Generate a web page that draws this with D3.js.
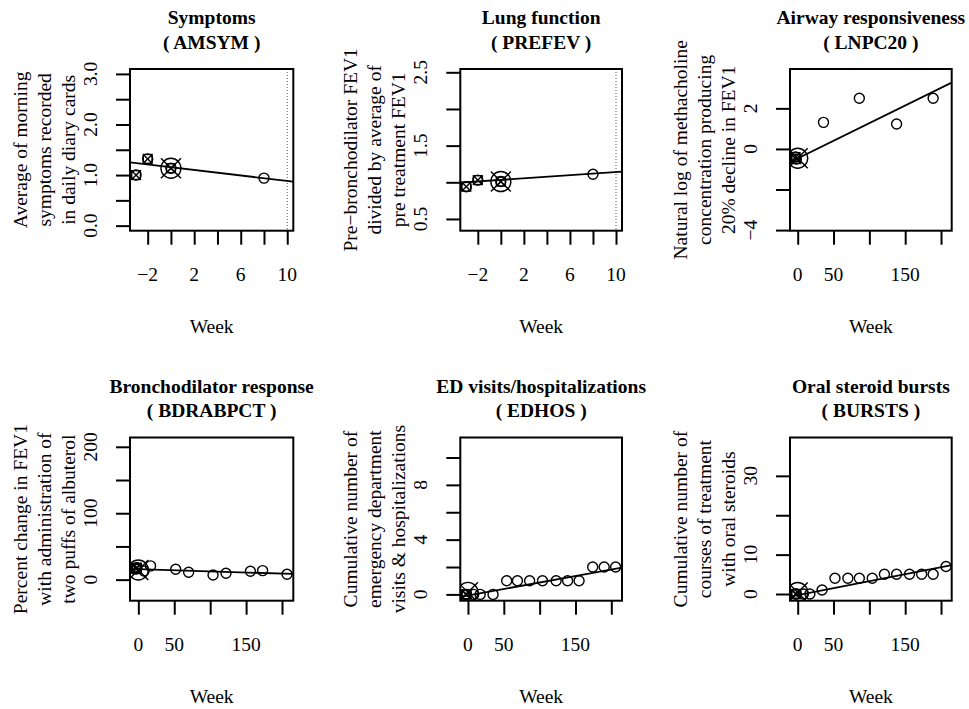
<!DOCTYPE html>
<html>
<head>
<meta charset="utf-8">
<script src="https://cdn.jsdelivr.net/npm/d3@7"></script>
<style>
  body { margin: 0; background: #fff; }
  svg text { font-family: "Liberation Serif", "Times New Roman", serif; font-size: 19.5px; fill: #000; }
</style>
</head>
<body>
<div id="chart"></div>
<script>
// Panel texts
var titles = ["Symptoms", "Lung function", "Airway responsiveness",
              "Bronchodilator response", "ED visits/hospitalizations", "Oral steroid bursts"];
var codes = ["AMSYM", "PREFEV", "LNPC20", "BDRABPCT", "EDHOS", "BURSTS"];
var yTitles = [
    ["Average of morning", "symptoms recorded", "in daily diary cards"],
    ["Pre\u2212bronchodilator FEV1", "divided by average of", "pre treatment FEV1"],
    ["Natural log of methacholine", "concentration producing", "20% decline in FEV1"],
    ["Percent change in FEV1", "with administration of", "two puffs of albuterol"],
    ["Cumulative number of", "emergency department", "visits & hospitalizations"],
    ["Cumulative number of", "courses of treatment", "with oral steroids"]
];

// Observations: week, value, visit kind (s = screening, b = baseline, f = follow-up)
var weeks = [
    [-3, -2, 0, 0, 8],
    [-3, -2, 0, 0, 8],
    [-3, -2, 0, 36, 86, 138, 189],
    [-3, -2, 0, 8, 17, 52, 70, 104, 122, 156, 173, 207],
    [-3, -2, 0, 8, 17, 35, 54, 69, 86, 104, 123, 139, 155, 174, 190, 206],
    [-3, -2, 0, 8, 17, 34, 52, 70, 86, 104, 121, 138, 156, 173, 189, 207]
];
var values = [
    [1.0, 1.32, 1.135, 1.135, 0.94],
    [0.94, 1.03, 1.01, 1.01, 1.11],
    [-0.4, -0.5, -0.46, 1.31, 2.5, 1.23, 2.5],
    [16, 18, 14.6, 13, 20.7, 15.7, 11.2, 7.1, 9.7, 12.7, 13.6, 8.2],
    [0, 0, 0.15, 0, 0, 0, 1, 1, 1, 1, 1, 1, 1, 2, 2, 2],
    [0, 0, 0.4, 0, 0, 1, 4, 4, 4, 4, 5, 5, 5, 5, 5, 7]
];
var kinds = [
    ["s", "s", "b", "s", "f"],
    ["s", "s", "b", "s", "f"],
    ["s", "s", "b", "f", "f", "f", "f"],
    ["s", "s", "b", "f", "f", "f", "f", "f", "f", "f", "f", "f"],
    ["s", "s", "b", "f", "f", "f", "f", "f", "f", "f", "f", "f", "f", "f", "f", "f"],
    ["s", "s", "b", "f", "f", "f", "f", "f", "f", "f", "f", "f", "f", "f", "f", "f"]
];

// Fitted trend lines (intercept, slope per week)
var fitIntercepts = [1.156, 1.033, -0.47, 15.7, -0.08, -0.28];
var fitSlopes = [-0.0273, 0.01068, 0.0174, -0.0332, 0.0095, 0.0355];

// Reference week (dotted line), null if none
var refWeeks = [10, 10, null, null, null, null];

// Axis domains and ticks
var xDomains = [[-3.52, 10.52], [-3.52, 10.52], [-10.75, 214.9], [-11.6, 215.7], [-10.7, 214.9], [-10.75, 214.9]];
var yDomains = [[-0.1, 3.097], [0.34, 2.545], [-4.03, 3.94], [-31.7, 214], [-0.46, 11.46], [-1.7, 39.74]];
var xTicks = [[-2, 0, 2, 4, 6, 8, 10], [-2, 0, 2, 4, 6, 8, 10],
              [0, 50, 100, 150, 200], [0, 50, 100, 150, 200], [0, 50, 100, 150, 200], [0, 50, 100, 150, 200]];
var xTickLabels = [[-2, 2, 6, 10], [-2, 2, 6, 10], [0, 50, 150], [0, 50, 150], [0, 50, 150], [0, 50, 150]];
var yTicks = [[0, 0.5, 1, 1.5, 2, 2.5, 3], [0.5, 1, 1.5, 2, 2.5], [-4, -2, 0, 2],
              [0, 50, 100, 150, 200], [0, 2, 4, 6, 8, 10], [0, 10, 20, 30]];
var yTickLabels = [[0, 1, 2, 3], [0.5, 1.5, 2.5], [-4, 0, 2], [0, 100, 200], [0, 4, 8], [0, 10, 30]];
var yTickFormats = [".1f", ".1f", "d", "d", "d", "d"];

// Layout of plot boxes
var colLeft = [130, 460.3, 790], colRight = [293.3, 622, 951.7];
var rowTop = [69, 437.5], rowBottom = [230.7, 600.7];
var tickLen = 14;

var svg = d3.select('#chart').append('svg')
    .attr('width', 969)
    .attr('height', 709);

function fmt(v, f) {
    var s = d3.format(f)(v);
    return s.replace('-', '\u2212');
}

function drawMarker(g, kind, cx, cy) {
    var m = g.append('g').attr('transform', `translate(${cx},${cy})`)
        .attr('fill', 'none').attr('stroke', '#000').attr('stroke-width', 1.4);
    if (kind === 'b') {
        var r = 10;
        m.append('circle').attr('r', r);
        m.append('line').attr('x1', -r).attr('y1', -r).attr('x2', r).attr('y2', r);
        m.append('line').attr('x1', -r).attr('y1', r).attr('x2', r).attr('y2', -r);
    } else if (kind === 's') {
        var h = 4.4;
        m.append('circle').attr('r', 5);
        m.append('rect').attr('x', -h).attr('y', -h).attr('width', 2 * h).attr('height', 2 * h);
        m.append('line').attr('x1', -h).attr('y1', -h).attr('x2', h).attr('y2', h);
        m.append('line').attr('x1', -h).attr('y1', h).attr('x2', h).attr('y2', -h);
    } else {
        m.append('circle').attr('r', 5);
    }
}

titles.forEach(function (title, i) {
    var col = i % 3, row = Math.floor(i / 3);
    var left = colLeft[col], right = colRight[col];
    var top = rowTop[row], bottom = rowBottom[row];
    var cx = (left + right) / 2, cy = (top + bottom) / 2;

    var x = d3.scaleLinear().domain(xDomains[i]).range([left, right]);
    var y = d3.scaleLinear().domain(yDomains[i]).range([bottom, top]);

    var g = svg.append('g').attr('class', 'panel');

    // clip region = plot box
    g.append('clipPath').attr('id', 'clip' + i)
        .append('rect').attr('x', left).attr('y', top)
        .attr('width', right - left).attr('height', bottom - top);
    var inner = g.append('g').attr('clip-path', `url(#clip${i})`);

    // reference dotted line
    if (refWeeks[i] !== null) {
        inner.append('line')
            .attr('x1', x(refWeeks[i])).attr('x2', x(refWeeks[i]))
            .attr('y1', top).attr('y2', bottom)
            .attr('stroke', '#555').attr('stroke-width', 1)
            .attr('stroke-dasharray', '1,2');
    }

    // fitted line across the box
    var xd = xDomains[i];
    inner.append('line')
        .attr('x1', x(xd[0])).attr('y1', y(fitIntercepts[i] + fitSlopes[i] * xd[0]))
        .attr('x2', x(xd[1])).attr('y2', y(fitIntercepts[i] + fitSlopes[i] * xd[1]))
        .attr('stroke', '#000').attr('stroke-width', 1.8);

    // points
    weeks[i].forEach(function (w, j) {
        drawMarker(inner, kinds[i][j], x(w), y(values[i][j]));
    });

    // axes (ticks only; labels placed separately)
    var gx = g.append('g').attr('transform', `translate(0,${bottom})`)
        .call(d3.axisBottom(x).tickValues(xTicks[i]).tickSize(tickLen).tickFormat(''));
    var gy = g.append('g').attr('transform', `translate(${left},0)`)
        .call(d3.axisLeft(y).tickValues(yTicks[i]).tickSize(tickLen).tickFormat(''));
    [gx, gy].forEach(function (a) {
        a.select('.domain').remove();
        a.selectAll('line').attr('stroke', '#000').attr('stroke-width', 2);
    });

    g.selectAll('.xlab').data(xTickLabels[i]).enter().append('text')
        .attr('x', (d) => x(d)).attr('y', bottom + 50)
        .attr('text-anchor', 'middle')
        .text((d) => fmt(d, 'd'));

    g.selectAll('.ylab').data(yTickLabels[i]).enter().append('text')
        .attr('transform', (d) => `translate(${left - 33},${y(d)}) rotate(-90)`)
        .attr('text-anchor', 'middle')
        .text((d) => fmt(d, yTickFormats[i]));

    // box
    g.append('rect').attr('x', left).attr('y', top)
        .attr('width', right - left).attr('height', bottom - top)
        .attr('fill', 'none').attr('stroke', '#000').attr('stroke-width', 2);

    // titles
    g.append('text').attr('x', cx).attr('y', top - 45)
        .attr('text-anchor', 'middle').attr('font-weight', 'bold').text(title);
    g.append('text').attr('x', cx).attr('y', top - 20.5)
        .attr('text-anchor', 'middle').attr('font-weight', 'bold').text('( ' + codes[i] + ' )');

    // x title
    g.append('text').attr('x', cx).attr('y', bottom + 102)
        .attr('text-anchor', 'middle').text('Week');

    // y title, three lines
    var offsets = [-103, -79, -55];
    yTitles[i].forEach(function (line, k) {
        g.append('text')
            .attr('transform', `translate(${left + offsets[k]},${cy}) rotate(-90)`)
            .attr('text-anchor', 'middle')
            .text(line);
    });
});
</script>
</body>
</html>
